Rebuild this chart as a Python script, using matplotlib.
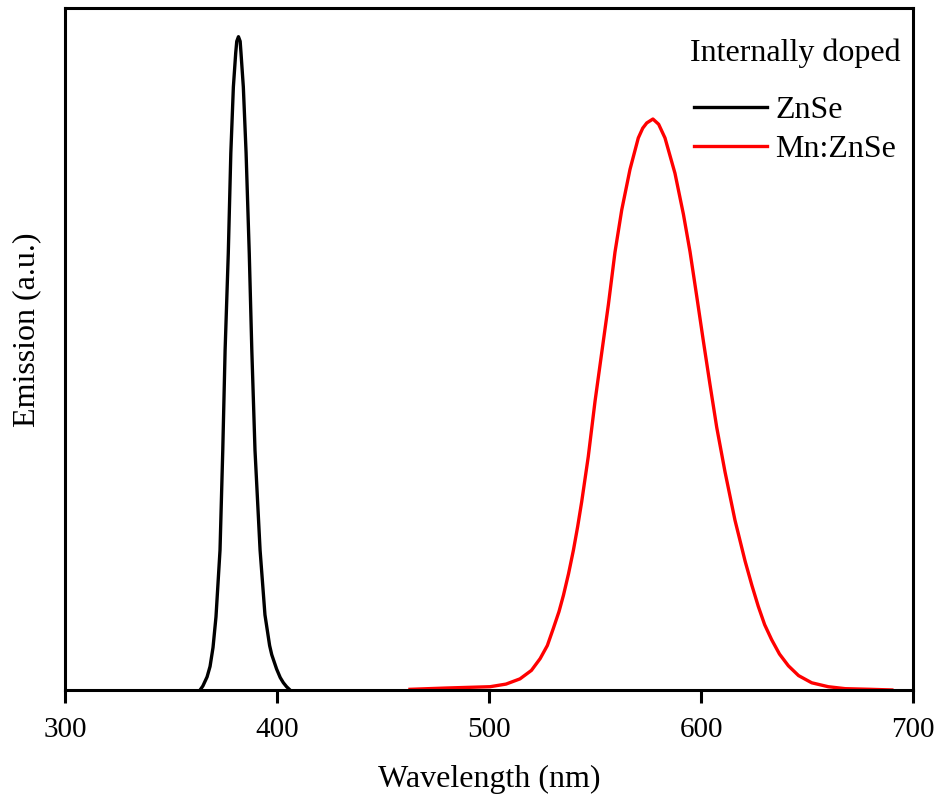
import matplotlib.pyplot as plt

plt.rcParams['font.family'] = ['Liberation Serif', 'DejaVu Serif']

# ZnSe band-edge emission
znse_wl = [363.7, 365.0, 367.0, 368.4, 369.8, 371.2, 373.1, 374.4, 375.5, 377.0,
           378.2, 379.4, 380.5, 381.0, 381.8, 382.6, 383.0, 384.1, 385.4, 386.9,
           388.1, 389.6, 392.0, 394.3, 396.5, 397.5, 399.8, 401.5, 403.0, 404.5,
           406.1]
znse_em = [0.0, 0.006, 0.02, 0.036, 0.065, 0.112, 0.214, 0.367, 0.52, 0.668,
           0.822, 0.923, 0.975, 0.993, 1.0, 0.993, 0.975, 0.923, 0.822, 0.668,
           0.52, 0.367, 0.214, 0.115, 0.068, 0.054, 0.032, 0.019, 0.011, 0.005,
           0.0]

# Mn:ZnSe dopant emission
mn_wl = [462.7, 480.0, 500.5, 508.0, 514.6, 520.0, 524.1, 527.5, 530.3, 533.0,
         535.1, 537.5, 539.8, 541.8, 543.7, 546.8, 550.0, 553.1, 556.3, 559.4,
         562.6, 566.5, 570.4, 572.5, 574.4, 577.3, 580.0, 583.0, 587.7, 591.7,
         594.8, 598.0, 601.1, 604.2, 607.4, 611.3, 616.0, 620.8, 624.0, 627.0,
         630.0, 633.3, 637.0, 641.2, 646.0, 652.2, 660.0, 668.0, 680.0, 690.0]
mn_em = [0.001, 0.003, 0.005, 0.009, 0.017, 0.030, 0.048, 0.068, 0.094, 0.120,
         0.145, 0.178, 0.214, 0.250, 0.288, 0.357, 0.442, 0.515, 0.590, 0.670,
         0.735, 0.797, 0.845, 0.860, 0.868, 0.874, 0.866, 0.845, 0.791, 0.728,
         0.671, 0.602, 0.534, 0.468, 0.402, 0.334, 0.260, 0.197, 0.160, 0.128,
         0.100, 0.077, 0.055, 0.037, 0.022, 0.011, 0.005, 0.002, 0.001, 0.0]

fig = plt.figure(figsize=(9.44, 7.96), dpi=100)
ax = fig.add_axes([0.0689, 0.1332, 0.8983, 0.8568])

ax.plot(znse_wl, znse_em, color='black', lw=2.4, label='ZnSe')
ax.plot(mn_wl, mn_em, color='red', lw=2.4, label='Mn:ZnSe')

ax.set_xlim(300, 700)
ax.set_ylim(0, 1.044)
ax.set_xticks([300, 400, 500, 600, 700])
ax.set_yticks([])
for s in ax.spines.values():
    s.set_linewidth(2.2)
ax.tick_params(axis='x', direction='out', length=9, width=2.2, labelsize=21, pad=10.5)

ax.set_xlabel('Wavelength (nm)', fontsize=23)
ax.xaxis.set_label_coords(0.5, -0.110)
ax.set_ylabel('Emission (a.u.)', fontsize=23)
ax.yaxis.set_label_coords(-0.028, 0.528)

leg = ax.legend(title='Internally doped', loc='upper right', frameon=False,
                fontsize=23, title_fontsize=23, handlelength=2.3,
                handletextpad=0.25, labelspacing=0.3, borderaxespad=0,
                bbox_to_anchor=(1.0, 0.974))
leg._legend_box.sep = 20

fig.savefig('out.png', dpi=100)
